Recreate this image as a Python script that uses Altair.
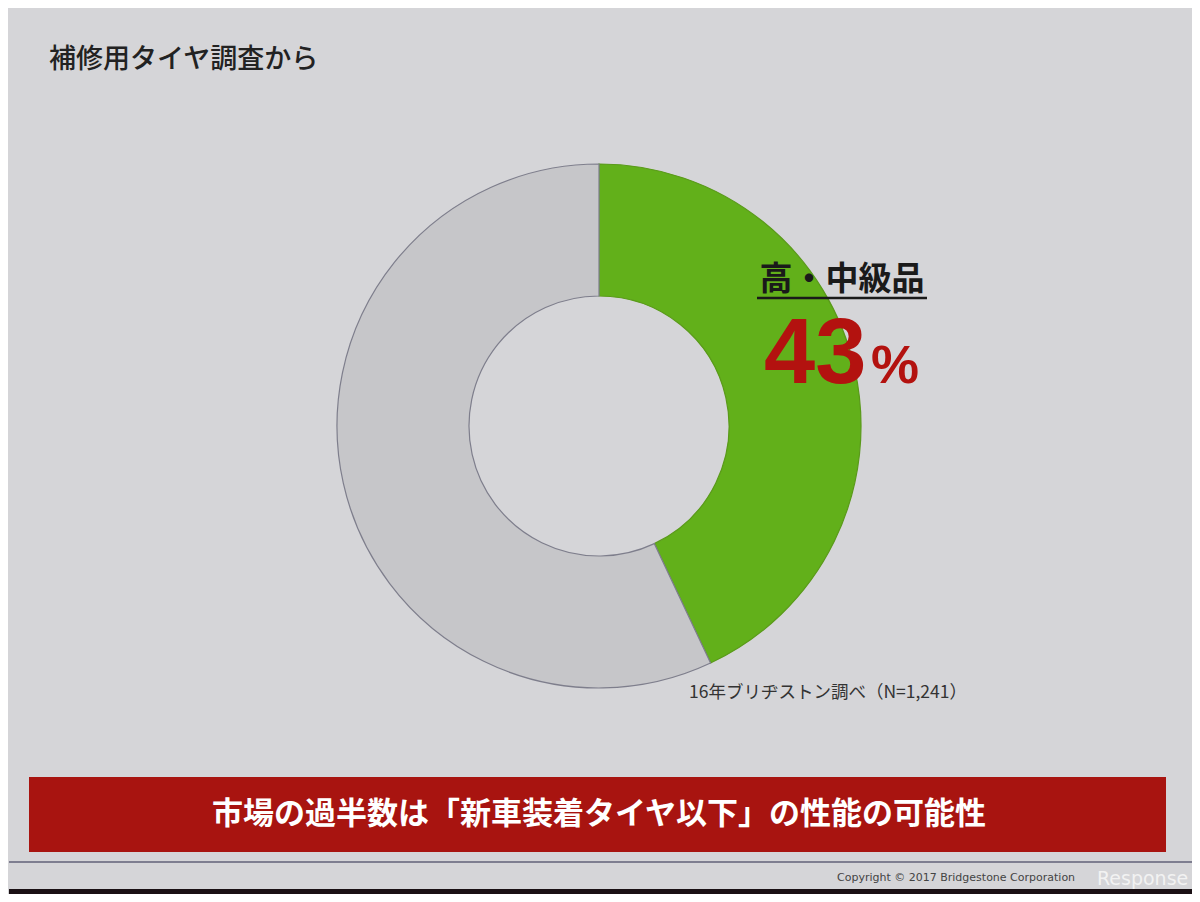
import altair as alt
import pandas as pd

# Data
categories = ["高・中級品", "その他"]
shares = [43, 57]
slice_order = [1, 2]
slice_colors = ["#62b01a", "#c6c6c9"]
slice_strokes = ["#5a9a1a", "#7e7e8c"]

title_text = "補修用タイヤ調査から"
label_text = "高・中級品"
value_text = "43"
pct_text = "%"
note_text = "16年ブリヂストン調べ（N=1,241）"
banner_text = "市場の過半数は「新車装着タイヤ以下」の性能の可能性"
copyright_text = "Copyright © 2017 Bridgestone Corporation"

FONT = "Noto Sans CJK JP"
W, H = 1184, 886

df = pd.DataFrame({"category": categories, "share": shares, "ord": slice_order})

donut = alt.Chart(df).mark_arc(
    radius=262, radius2=130, strokeWidth=1.2
).encode(
    theta=alt.Theta("share:Q", stack=True),
    order=alt.Order("ord:Q"),
    color=alt.Color("category:N", scale=alt.Scale(domain=categories, range=slice_colors), legend=None),
    stroke=alt.Stroke("category:N", scale=alt.Scale(domain=categories, range=slice_strokes), legend=None),
    x=alt.value(590),
    y=alt.value(418),
)

base = alt.Chart(pd.DataFrame({"d": [0]}))

def txt(text, x, y, size, color="#1a1a1a", weight="normal", align="left", baseline="middle", font=FONT):
    return base.mark_text(
        text=text, fontSize=size, color=color, fontWeight=weight,
        align=align, baseline=baseline, font=font
    ).encode(x=alt.value(x), y=alt.value(y))

title = txt(title_text, 40, 52, 27, color="#222222", weight=500)
label = txt(label_text, 833, 272, 33, weight="bold", align="center")
underline = base.mark_rule(color="#1a1a1a", strokeWidth=2.5).encode(
    x=alt.value(748), x2=alt.value(918), y=alt.value(290)
)
big = txt(value_text, 755, 375, 92, color="#b3120f", weight="bold", baseline="alphabetic", font="Liberation Sans")
pct = txt(pct_text, 862, 375, 54, color="#b3120f", weight="bold", baseline="alphabetic", font="Liberation Sans")
note = txt(note_text, 680, 685, 17.5, color="#333333")

banner = base.mark_rect(color="#a81410").encode(
    x=alt.value(20), x2=alt.value(1157), y=alt.value(769), y2=alt.value(844)
)
banner_label = txt(banner_text, 590, 807, 31, color="#ffffff", weight="bold", align="center")

sep = base.mark_rule(color="#7e7e90", strokeWidth=2).encode(
    x=alt.value(0), x2=alt.value(W), y=alt.value(854)
)
copy = txt(copyright_text, 828, 870, 11, color="#444444", font="DejaVu Sans")
watermark = txt("Response", 1088, 871, 19, color="#f2f2f2", font="DejaVu Sans")
bottom = base.mark_rect(color="#1a1014").encode(
    x=alt.value(0), x2=alt.value(W), y=alt.value(881), y2=alt.value(H)
)

chart = alt.layer(
    donut, title, label, underline, big, pct, note,
    banner, banner_label, sep, copy, watermark, bottom
).properties(
    width=W, height=H,
    autosize=alt.AutoSizeParams(type="fit", contains="padding"),
    padding=0,
    background="#d5d5d8",
).configure_view(stroke=None)

chart.save("out.html", embed_options={"renderer": "svg", "actions": False})
